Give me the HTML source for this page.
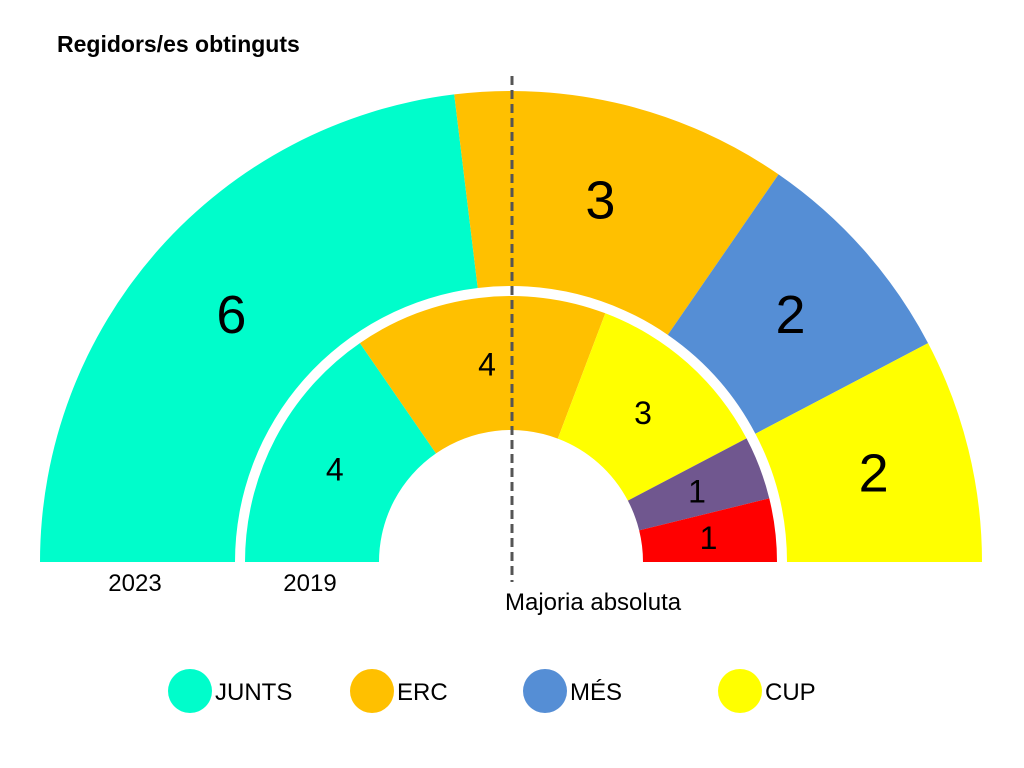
<!DOCTYPE html>
<html><head><meta charset="utf-8">
<style>
body{margin:0;background:#fff;font-family:"Liberation Sans",sans-serif;}
svg{display:block}
</style></head>
<body>
<svg id="chart" width="1024" height="768">
<text x="57" y="52" font-size="23" font-weight="bold" fill="#000">Regidors/es obtinguts</text>
<g id="arcs"></g>
<line x1="512" y1="76" x2="512" y2="582" stroke="#555" stroke-width="3" stroke-dasharray="9,5"/>
<text x="505" y="610" font-size="24" fill="#000">Majoria absoluta</text>
<text x="135" y="591" font-size="24" text-anchor="middle">2023</text>
<text x="310" y="591" font-size="24" text-anchor="middle">2019</text>
<g id="legend"></g>
</svg>
<script>
const parties2023 = ["JUNTS","ERC","MÉS","CUP"];
const seats2023 = [6,3,2,2];
const colors2023 = ["#00fdcb","#ffc000","#558ed5","#ffff00"];
const parties2019 = ["JUNTS","ERC","CUP","Altres-lila","Altres-vermell"];
const seats2019 = [4,4,3,1,1];
const colors2019 = ["#00fdcb","#ffc000","#ffff00","#70578f","#ff0000"];
const legendNames = ["JUNTS","ERC","MÉS","CUP"];
const legendColors = ["#00fdcb","#ffc000","#558ed5","#ffff00"];

const NS="http://www.w3.org/2000/svg";
const cx=511, cy=562;
function pt(r,a){return [cx+r*Math.cos(a), cy-r*Math.sin(a)];}
function ring(names,seats,colors,r0,r1,fs,year){
  const g=document.getElementById('arcs');
  const tot=seats.reduce((a,b)=>a+b,0);
  let acc=0;
  seats.forEach((s,i)=>{
    const a0=Math.PI*(1-acc/tot), a1=Math.PI*(1-(acc+s)/tot);
    acc+=s;
    const p1=pt(r1,a0),p2=pt(r1,a1),p3=pt(r0,a1),p4=pt(r0,a0);
    const path=document.createElementNS(NS,'path');
    path.setAttribute('d',`M${p1[0]},${p1[1]} A${r1},${r1} 0 0 1 ${p2[0]},${p2[1]} L${p3[0]},${p3[1]} A${r0},${r0} 0 0 0 ${p4[0]},${p4[1]} Z`);
    path.setAttribute('fill',colors[i]);
    
    
    g.appendChild(path);
    const am=(a0+a1)/2, rm=(r0+r1)/2;
    const lp=pt(rm,am);
    const t=document.createElementNS(NS,'text');
    t.setAttribute('x',lp[0]);t.setAttribute('y',lp[1]+fs*0.35);
    t.setAttribute('font-size',fs);t.setAttribute('text-anchor','middle');
    t.textContent=s;
    
    
    g.appendChild(t);
  });
}
ring(parties2023,seats2023,colors2023,276,471,54,'2023');
ring(parties2019,seats2019,colors2019,132,266,32,'2019');
const lg=document.getElementById('legend');
const lx=[190,372,545,740];
legendNames.forEach((n,i)=>{
  const c=document.createElementNS(NS,'circle');
  c.setAttribute('cx',lx[i]);c.setAttribute('cy',691);c.setAttribute('r',22);
  c.setAttribute('fill',legendColors[i]);
  
  
  lg.appendChild(c);
  const t=document.createElementNS(NS,'text');
  t.setAttribute('x',lx[i]+25);t.setAttribute('y',700);t.setAttribute('font-size',24);
  t.textContent=n;
  
  
  lg.appendChild(t);
});
</script>
</body></html>
